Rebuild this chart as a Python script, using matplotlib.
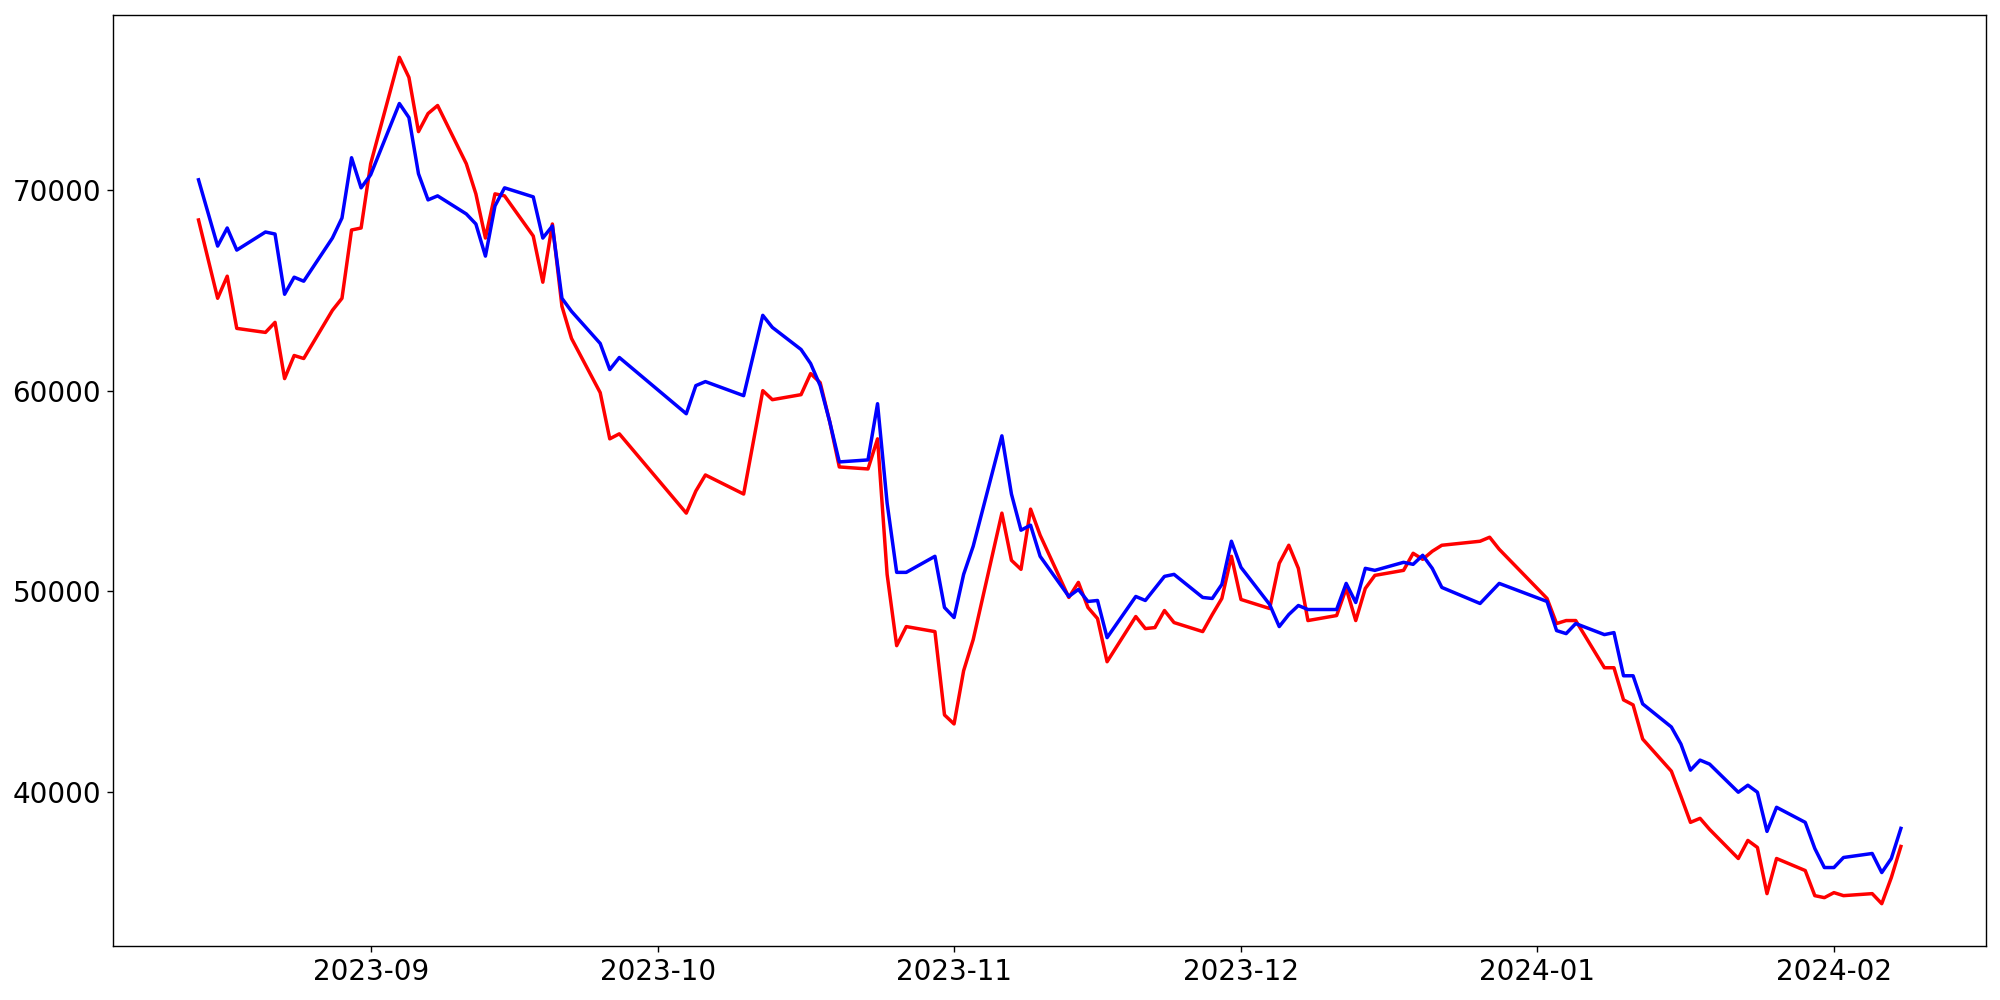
import matplotlib
matplotlib.use("Agg")
import matplotlib.pyplot as plt
import pandas as pd

# trading days (KRX calendar), Aug 2023 - Feb 2024
dates = [
    "2023-08-14", "2023-08-16", "2023-08-17", "2023-08-18", "2023-08-21", "2023-08-22",
    "2023-08-23", "2023-08-24", "2023-08-25", "2023-08-28", "2023-08-29", "2023-08-30",
    "2023-08-31",
    "2023-09-01", "2023-09-04", "2023-09-05", "2023-09-06", "2023-09-07", "2023-09-08",
    "2023-09-11", "2023-09-12", "2023-09-13", "2023-09-14", "2023-09-15", "2023-09-18",
    "2023-09-19", "2023-09-20", "2023-09-21", "2023-09-22", "2023-09-25", "2023-09-26",
    "2023-09-27",
    "2023-10-04", "2023-10-05", "2023-10-06", "2023-10-10", "2023-10-12", "2023-10-13",
    "2023-10-16", "2023-10-17", "2023-10-18", "2023-10-19", "2023-10-20", "2023-10-23",
    "2023-10-24", "2023-10-25", "2023-10-26", "2023-10-27", "2023-10-30", "2023-10-31",
    "2023-11-01", "2023-11-02", "2023-11-03", "2023-11-06", "2023-11-07", "2023-11-08",
    "2023-11-09", "2023-11-10", "2023-11-13", "2023-11-14", "2023-11-15", "2023-11-16",
    "2023-11-17", "2023-11-20", "2023-11-21", "2023-11-22", "2023-11-23", "2023-11-24",
    "2023-11-27", "2023-11-28", "2023-11-29", "2023-11-30",
    "2023-12-01", "2023-12-04", "2023-12-05", "2023-12-06", "2023-12-07", "2023-12-08",
    "2023-12-11", "2023-12-12", "2023-12-13", "2023-12-14", "2023-12-15", "2023-12-18",
    "2023-12-19", "2023-12-20", "2023-12-21", "2023-12-22", "2023-12-26", "2023-12-27",
    "2023-12-28",
    "2024-01-02", "2024-01-03", "2024-01-04", "2024-01-05", "2024-01-08", "2024-01-09",
    "2024-01-10", "2024-01-11", "2024-01-12", "2024-01-15", "2024-01-16", "2024-01-17",
    "2024-01-18", "2024-01-19", "2024-01-22", "2024-01-23", "2024-01-24", "2024-01-25",
    "2024-01-26", "2024-01-29", "2024-01-30", "2024-01-31",
    "2024-02-01", "2024-02-02", "2024-02-05", "2024-02-06", "2024-02-07", "2024-02-08",
]

red_vals = [
    68500, 64600, 65700, 63100, 62900, 63400, 60600, 61750, 61600, 64000, 64600, 68000,
    68100,
    71300, 76600, 75600, 72900, 73800, 74200, 71300, 69800, 67600, 69800, 69700, 67700,
    65400, 68300, 64200, 62600, 59900, 57600, 57850,
    53900, 55000, 55800, 54850, 60000, 59550, 59800, 60850, 60400, 58450, 56200, 56100,
    57600, 50850, 47300, 48250, 48000, 43850,
    43400, 46050, 47600, 53900, 51550, 51100, 54100, 52800, 49700, 50450, 49200, 48650,
    46500, 48750, 48150, 48200, 49050, 48450, 48000, 48850, 49650, 51750,
    49600, 49150, 51400, 52300, 51150, 48550, 48800, 50150, 48550, 50150, 50800, 51050,
    51900, 51600, 52000, 52300, 52500, 52700, 52100,
    49650, 48400, 48550, 48550, 46200, 46200, 44600, 44350, 42650, 41050, 39800, 38500,
    38700, 38150, 36700, 37600, 37250, 34950, 36700, 36100, 34850, 34750,
    35000, 34850, 34950, 34450, 35750, 37300,
]

blue_vals = [
    70500, 67200, 68100, 67000, 67900, 67800, 64800, 65650, 65450, 67600, 68600, 71600,
    70100,
    70750, 74300, 73600, 70800, 69500, 69700, 68800, 68300, 66700, 69200, 70100, 69650,
    67600, 68200, 64600, 63950, 62350, 61050, 61650,
    58850, 60250, 60450, 59750, 63750, 63150, 62050, 61350, 60250, 58450, 56450, 56550,
    59350, 54400, 50950, 50950, 51750, 49200,
    48700, 50850, 52250, 57750, 54850, 53050, 53300, 51750, 49750, 50100, 49500, 49550,
    47700, 49750, 49550, 50150, 50750, 50850, 49700, 49650, 50350, 52500,
    51200, 49350, 48250, 48850, 49300, 49100, 49100, 50400, 49450, 51150, 51050, 51450,
    51350, 51800, 51150, 50200, 49400, 49900, 50400,
    49500, 48050, 47900, 48400, 47850, 47950, 45800, 45800, 44400, 43250, 42400, 41100,
    41600, 41400, 40000, 40350, 40000, 38050, 39250, 38500, 37200, 36250,
    36250, 36750, 36950, 36000, 36700, 38200,
]

x = pd.to_datetime(dates)

fig = plt.figure(figsize=(16, 8))
ax = fig.add_subplot()

ax.plot(x, red_vals, color='red', linewidth=2)
ax.plot(x, blue_vals, color='blue', linewidth=2)

ax.tick_params(labelsize=16)

plt.subplots_adjust(left=0.0567, right=0.993, bottom=0.054, top=0.985)
plt.savefig("out.png", dpi=125)
